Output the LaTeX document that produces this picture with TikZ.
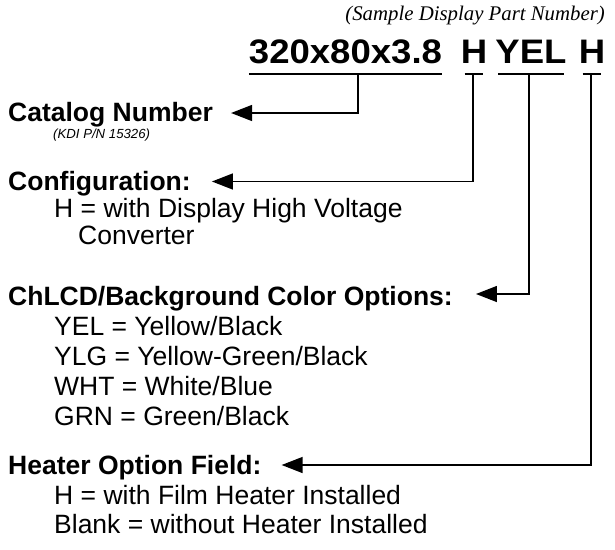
\documentclass[tikz,border=0pt]{standalone}
\usepackage{fontspec}
\setmainfont{Liberation Sans}
\newfontfamily\partfont{Liberation Serif}
\usepackage{graphicx}
\usetikzlibrary{arrows.meta,positioning}
\tikzset{
  heading/.style={anchor=base west, inner sep=0pt, font=\fontsize{26.5}{30}\selectfont\bfseries},
  option/.style={anchor=base west, inner sep=0pt, font=\fontsize{26.5}{30}\selectfont},
  field/.style={anchor=base, inner sep=0pt, font=\fontsize{34}{36}\selectfont\bfseries},
  fieldline/.style={line width=1.4pt},
  pointer/.style={-{Triangle[length=21pt,width=16pt]}, line width=1.4pt},
}

\begin{document}
\begin{tikzpicture}[x=1pt, y=-1pt]
\useasboundingbox (0,0) rectangle (615,549);

% sample part number
\node[anchor=base east, inner sep=0pt, font=\fontsize{20.8}{24}\partfont\itshape] (sample) at (605,20) {(Sample Display Part Number)};
\node[field] (pn) at (345.5,63) {\scalebox{1.075}[1]{320x80x3.8}};
\node[field] (cfg) at (474,63) {\scalebox{1.075}[1]{H}};
\node[field] (col) at (531,63) {\scalebox{1.075}[1]{YEL}};
\node[field] (htr) at (592,63) {\scalebox{1.075}[1]{H}};

% underlines
\draw[fieldline] ([yshift=-11pt]pn.base west) -- ([yshift=-11pt]pn.base east);
\draw[fieldline, shorten <=4pt, shorten >=4pt] ([yshift=-11pt]cfg.base west) -- ([yshift=-11pt]cfg.base east);
\draw[fieldline, shorten <=3pt, shorten >=3pt] ([yshift=-11pt]col.base west) -- ([yshift=-11pt]col.base east);
\draw[fieldline, shorten <=4pt, shorten >=4pt] ([yshift=-11pt]htr.base west) -- ([yshift=-11pt]htr.base east);
\coordinate (pntick) at ([xshift=12.5pt,yshift=-11pt]pn.base);
\coordinate (cfgtick) at ([xshift=-1pt,yshift=-11pt]cfg.base);
\coordinate (coltick) at ([xshift=-2pt,yshift=-11pt]col.base);
\coordinate (htrtick) at ([xshift=-1pt,yshift=-11pt]htr.base);

% field descriptions
\node[heading] (catalog) at (8,121.5) {Catalog Number};
\node[anchor=base west, inner sep=0pt, font=\fontsize{13.2}{15}\selectfont\itshape] (kdi) at (53,138) {(KDI P/N 15326)};

\node[heading] (config) at (8,190) {Configuration:};
\node[option] (cfgH) at ([xshift=46pt,yshift=-27pt]config.base west) {H = with Display High Voltage};
\node[option] (cfgH2) at ([xshift=24pt,yshift=-27pt]cfgH.base west) {Converter};

\node[heading] (color) at (8,305) {ChLCD/Background Color Options:};
\node[option] (colYEL) at ([xshift=46pt,yshift=-30pt]color.base west) {YEL = Yellow/Black};
\node[option] (colYLG) at ([yshift=-30pt]colYEL.base west) {YLG = Yellow-Green/Black};
\node[option] (colWHT) at ([yshift=-30pt]colYLG.base west) {WHT = White/Blue};
\node[option] (colGRN) at ([yshift=-30pt]colWHT.base west) {GRN = Green/Black};

\node[heading] (heater) at (8,474) {Heater Option Field:};
\node[option] (htrH) at ([xshift=46pt,yshift=-30pt]heater.base west) {H = with Film Heater Installed};
\node[option] (htrB) at ([yshift=-29pt]htrH.base west) {Blank = without Heater Installed};

% connectors
\draw[pointer] (pntick) |- ([xshift=18pt,yshift=8.5pt]catalog.base east);
\draw[pointer] (cfgtick) |- ([xshift=21pt,yshift=8.5pt]config.base east);
\draw[pointer] (coltick) |- ([xshift=23pt,yshift=11pt]color.base east);
\draw[pointer] (htrtick) |- ([xshift=20pt,yshift=9pt]heater.base east);

\end{tikzpicture}
\end{document}
